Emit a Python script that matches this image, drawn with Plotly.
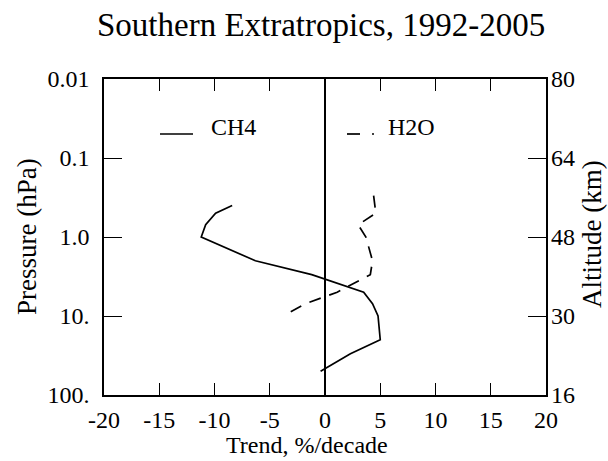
import plotly.graph_objects as go

# CH4 trend profile
ch4_pressure = [0.4, 0.5, 0.7, 1.0, 2.0, 3.0, 5.0, 7.0, 10.0, 20.0, 30.0, 50.0]
ch4_trend = [-8.4, -9.9, -10.8, -11.2, -6.3, -1.2, 3.5, 4.3, 4.8, 5.0, 2.3, -0.4]

# H2O trend profile
h2o_pressure = [0.3, 0.5, 0.7, 1.0, 2.0, 3.0, 5.0, 7.0, 10.0]
h2o_trend = [4.4, 4.6, 3.0, 3.7, 4.3, 4.1, 1.1, -1.8, -3.8]

x_ticks = [-20, -15, -10, -5, 0, 5, 10, 15, 20]
x_labels = ["-20", "-15", "-10", "-5", "0", "5", "10", "15", "20"]
p_ticks = [0.01, 0.1, 1.0, 10.0, 100.0]
p_labels = ["0.01", "0.1", "1.0", "10.", "100."]
alt_labels = ["80", "64", "48", "30", "16"]

FAM = "Liberation Serif, Times New Roman, Times, serif"


def F(size):
    return dict(family=FAM, size=size, color="black")


fig = go.Figure()
fig.add_trace(go.Scatter(x=ch4_trend, y=ch4_pressure, mode="lines",
                         line=dict(color="black", width=1.7), showlegend=False))
fig.add_trace(go.Scatter(x=h2o_trend, y=h2o_pressure, mode="lines",
                         line=dict(color="black", width=1.7, dash="12px,9px"),
                         showlegend=False))
# invisible trace for right axis
fig.add_trace(go.Scatter(x=[0], y=[1], yaxis="y2", mode="markers",
                         marker=dict(opacity=0), showlegend=False, hoverinfo="skip"))

fig.update_layout(
    width=608, height=461,
    margin=dict(l=104, r=62, t=79, b=66),
    paper_bgcolor="white", plot_bgcolor="white",
    font=F(24),
    xaxis=dict(range=[-20, 20], tickvals=x_ticks, ticktext=x_labels,
               ticks="inside", ticklen=12, tickfont=F(24),
               tickwidth=1.2, tickcolor="black", showline=True, linecolor="black",
               linewidth=1.5, mirror="ticks", showgrid=False, zeroline=True,
               zerolinecolor="black", zerolinewidth=1.6, ticklabelstandoff=2),
    yaxis=dict(type="log", range=[2, -2], tickvals=p_ticks, ticktext=p_labels,
               tickfont=F(24),
               ticks="inside", ticklen=18, tickwidth=1.2, tickcolor="black",
               showline=True, linecolor="black", linewidth=1.5, mirror=True,
               showgrid=False, zeroline=False, ticklabelstandoff=8),
    yaxis2=dict(type="log", range=[2, -2], tickvals=p_ticks, ticktext=alt_labels,
                tickfont=F(24),
                overlaying="y", side="right", ticks="inside", ticklen=18,
                tickwidth=1.2, tickcolor="black", showline=False, showgrid=False,
                zeroline=False, ticklabelstandoff=4),
)


def px(xp):
    return (xp - 104) / 442


def py(yp):
    return (395 - yp) / 316


fig.update_layout(annotations=[
    dict(text="Southern Extratropics, 1992-2005", xref="paper", yref="paper",
         x=px(321), y=py(25), xanchor="center", yanchor="middle",
         showarrow=False, font=F(33)),
    dict(text="Trend, %/decade", xref="paper", yref="paper",
         x=px(307), y=py(445), xanchor="center", yanchor="middle",
         showarrow=False, font=F(24)),
    dict(text="Pressure (hPa)", xref="paper", yref="paper", textangle=-90,
         x=px(27), y=py(237), xanchor="center", yanchor="middle",
         showarrow=False, font=F(27)),
    dict(text="Altitude (km)", xref="paper", yref="paper", textangle=-90,
         x=px(592), y=py(234), xanchor="center", yanchor="middle",
         showarrow=False, font=F(27)),
    dict(text="CH4", xref="paper", yref="paper",
         x=px(209), y=py(127), xanchor="left", yanchor="middle",
         showarrow=False, font=F(24)),
    dict(text="H2O", xref="paper", yref="paper",
         x=px(386), y=py(127), xanchor="left", yanchor="middle",
         showarrow=False, font=F(24)),
])

shapes = [
    dict(type="line", xref="paper", yref="paper", x0=px(160), x1=px(193),
         y0=py(134), y1=py(134), line=dict(color="black", width=1.7)),
    dict(type="line", xref="paper", yref="paper", x0=px(347), x1=px(360),
         y0=py(134), y1=py(134), line=dict(color="black", width=1.7)),
    dict(type="line", xref="paper", yref="paper", x0=px(372), x1=px(374),
         y0=py(134), y1=py(134), line=dict(color="black", width=1.7)),
]
fig.update_layout(shapes=shapes)

fig.write_html("out.html")
